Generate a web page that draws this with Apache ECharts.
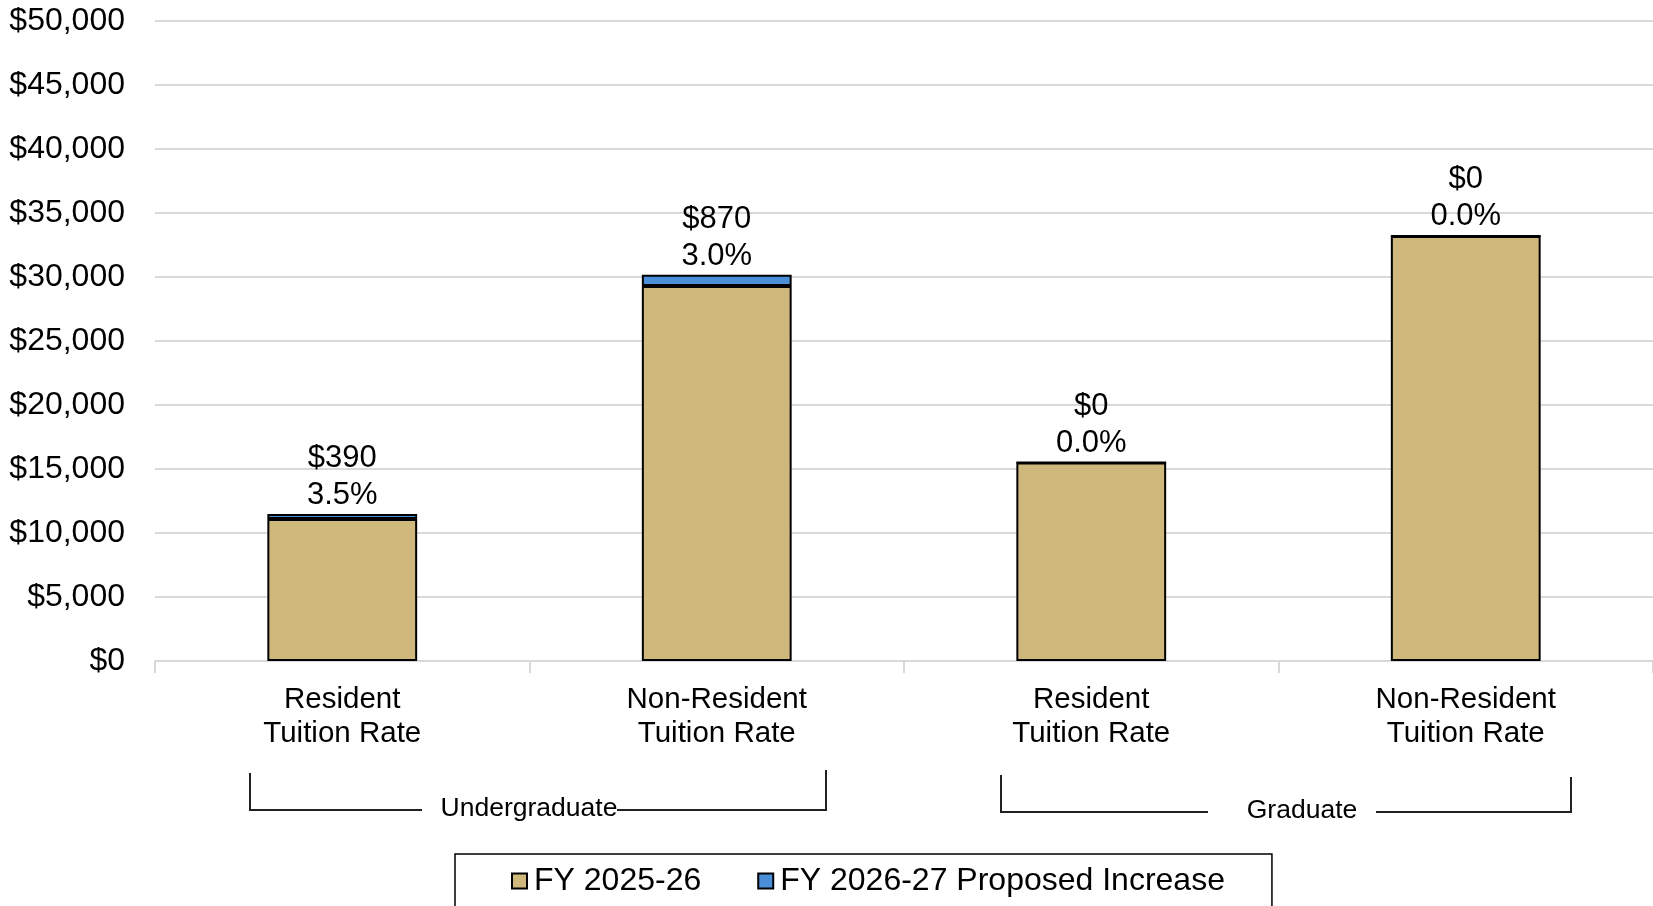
<!DOCTYPE html>
<html>
<head>
<meta charset="utf-8">
<script src="https://cdn.jsdelivr.net/npm/echarts@6/dist/echarts.min.js"></script>
<style>
  html, body { margin: 0; padding: 0; background: #fff; }
  #chart { width: 1653px; height: 906px; }
</style>
</head>
<body>
<div id="chart"></div>
<script>
// Tuition rates: current year plus proposed increase
const categories = [
    "Resident\nTuition Rate",
    "Non-Resident\nTuition Rate",
    "Resident\nTuition Rate",
    "Non-Resident\nTuition Rate",
];
const baseValues = [11100, 29300, 15500, 33200];
const increaseValues = [390, 870, 0, 0];
const increasePct = ["3.5%", "3.0%", "0.0%", "0.0%"];
const seriesNames = ["FY 2025-26", "FY 2026-27 Proposed Increase"];
const groupNames = ["Undergraduate", "Graduate"];

const FONT = "'Liberation Sans', Arial, Helvetica, sans-serif";
const gridColor = "#d9d9d9";
const bracketColor = "#222";

const chart = echarts.init(document.getElementById("chart"));

const option = {
    backgroundColor: "#fff",
    animation: false,
    textStyle: { fontFamily: FONT, color: "#000" },
    grid: { left: 155, right: 0, top: 21, bottom: 245, containLabel: false },
    legend: {
        data: seriesNames,
        left: 455,
        top: 854,
        padding: [11, 47, 40, 56],
        borderColor: "#000",
        borderWidth: 1.5,
        itemGap: 56,
        itemWidth: 15,
        itemHeight: 15,
        icon: "rect",
        textStyle: { fontSize: 32, fontFamily: FONT, color: "#000", padding: [0, 0, 0, 2] },
    },
    xAxis: {
        type: "category",
        data: categories,
        axisLine: { lineStyle: { color: gridColor, width: 2 } },
        axisTick: { show: true, length: 12, lineStyle: { color: gridColor, width: 2 } },
        axisLabel: {
            fontSize: 29.5,
            lineHeight: 34,
            margin: 22,
            color: "#000",
            fontFamily: FONT,
        },
    },
    yAxis: {
        type: "value",
        min: 0,
        max: 50000,
        interval: 5000,
        axisLine: { show: false },
        axisTick: { show: false },
        splitLine: { lineStyle: { color: gridColor, width: 2 } },
        axisLabel: {
            fontSize: 32,
            margin: 30,
            color: "#000",
            fontFamily: FONT,
            formatter: (v) => "$" + v.toLocaleString("en-US"),
        },
    },
    series: [
        {
            name: seriesNames[0],
            type: "bar",
            stack: "total",
            barWidth: "40%",
            data: baseValues,
            itemStyle: { color: "#cfb87c", borderColor: "#000", borderWidth: 2 },
        },
        {
            name: seriesNames[1],
            type: "bar",
            stack: "total",
            barWidth: "40%",
            data: increaseValues,
            itemStyle: { color: "#4a8fd8", borderColor: "#000", borderWidth: 2 },
            label: {
                show: true,
                position: "top",
                distance: 0,
                fontSize: 31,
                lineHeight: 37,
                color: "#000",
                fontFamily: FONT,
                formatter: (p) => "$" + increaseValues[p.dataIndex].toLocaleString("en-US") + "\n" + increasePct[p.dataIndex],
            },
        },
    ],
    graphic: [
        // Undergraduate bracket
        { type: "polyline", shape: { points: [[250, 773], [250, 810], [422, 810]] }, style: { stroke: bracketColor, lineWidth: 2, fill: null } },
        { type: "polyline", shape: { points: [[617, 810], [826, 810], [826, 770]] }, style: { stroke: bracketColor, lineWidth: 2, fill: null } },
        { type: "text", x: 529, y: 809, style: { text: groupNames[0], font: "26.5px " + FONT, fill: "#000", align: "center", verticalAlign: "middle" } },
        // Graduate bracket
        { type: "polyline", shape: { points: [[1001, 775], [1001, 812], [1208, 812]] }, style: { stroke: bracketColor, lineWidth: 2, fill: null } },
        { type: "polyline", shape: { points: [[1376, 812], [1571, 812], [1571, 777]] }, style: { stroke: bracketColor, lineWidth: 2, fill: null } },
        { type: "text", x: 1302, y: 811, style: { text: groupNames[1], font: "26.5px " + FONT, fill: "#000", align: "center", verticalAlign: "middle" } },
    ],
};

chart.setOption(option);
</script>
</body>
</html>
